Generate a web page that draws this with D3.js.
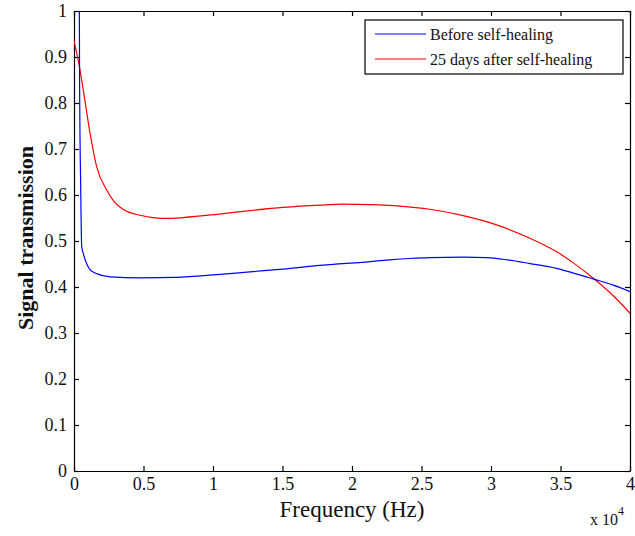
<!DOCTYPE html>
<html>
<head>
<meta charset="utf-8">
<script src="https://cdn.jsdelivr.net/npm/d3@7"></script>
<style>
  html, body { margin: 0; padding: 0; background: #fff; }
  svg { display: block; }
  text { font-family: "Liberation Serif", "Times New Roman", serif; fill: #111; }
</style>
</head>
<body>
<svg id="chart" width="635" height="536"></svg>
<script>
// Frequency sweep (Hz) and signal transmission, before self-healing
const beforeFreq = [380, 400, 480, 554, 669, 1151, 1633, 2590, 4750, 7350, 10290, 12660, 15040, 17700, 19350, 20500, 22700, 24160, 25600, 28000, 29700, 31200, 32800, 34700, 36200, 37400, 38800, 40000];
const beforeVal  = [1.05, 0.86, 0.62, 0.488, 0.473, 0.438, 0.429, 0.422, 0.420, 0.421, 0.427, 0.433, 0.439, 0.447, 0.451, 0.453, 0.459, 0.462, 0.464, 0.465, 0.464, 0.459, 0.451, 0.4405, 0.428, 0.417, 0.404, 0.390];

// 25 days after self-healing
const afterFreq = [0, 432, 669, 1151, 1633, 2352, 2900, 3525, 4750, 5680, 6800, 7840, 10290, 12660, 15040, 17700, 19350, 21290, 23450, 25600, 28000, 30400, 32800, 34700, 35900, 37400, 38800, 40000];
const afterVal  = [0.935, 0.872, 0.828, 0.735, 0.661, 0.611, 0.585, 0.569, 0.556, 0.551, 0.549, 0.551, 0.558, 0.566, 0.573, 0.578, 0.580, 0.579, 0.576, 0.569, 0.555, 0.535, 0.506, 0.477, 0.453, 0.418, 0.381, 0.343];

const xTicks = [0, 5000, 10000, 15000, 20000, 25000, 30000, 35000, 40000];
const xTickLabels = ["0", "0.5", "1", "1.5", "2", "2.5", "3", "3.5", "4"];
const yTicks = [0, 0.1, 0.2, 0.3, 0.4, 0.5, 0.6, 0.7, 0.8, 0.9, 1];
const yTickLabels = ["0", "0.1", "0.2", "0.3", "0.4", "0.5", "0.6", "0.7", "0.8", "0.9", "1"];
const seriesNames = ["Before self-healing", "25 days after self-healing"];
const seriesColors = ["#0000ff", "#ff0000"];

const svg = d3.select("#chart");
const L = 74, R = 630, T = 11, B = 471;

const x = d3.scaleLinear().domain([0, 40000]).range([L, R]);
const y = d3.scaleLinear().domain([0, 1]).range([B, T]);

svg.append("defs").append("clipPath").attr("id", "plotClip")
  .append("rect").attr("x", L).attr("y", T).attr("width", R - L).attr("height", B - T);

const tickLen = 5;

// Bottom axis
const xAxis = svg.append("g").attr("transform", `translate(0,${B})`)
  .call(d3.axisBottom(x).tickValues(xTicks).tickSize(-tickLen).tickSizeOuter(0)
    .tickFormat((d, i) => xTickLabels[i]));
// Top axis (mirror ticks)
const xAxisTop = svg.append("g").attr("transform", `translate(0,${T})`)
  .call(d3.axisTop(x).tickValues(xTicks).tickSize(-tickLen).tickSizeOuter(0).tickFormat(""));
// Left axis
const yAxis = svg.append("g").attr("transform", `translate(${L},0)`)
  .call(d3.axisLeft(y).tickValues(yTicks).tickSize(-tickLen).tickSizeOuter(0)
    .tickFormat((d, i) => yTickLabels[i]));
// Right axis (mirror ticks)
const yAxisRight = svg.append("g").attr("transform", `translate(${R},0)`)
  .call(d3.axisRight(y).tickValues(yTicks).tickSize(-tickLen).tickSizeOuter(0).tickFormat(""));

[xAxis, xAxisTop, yAxis, yAxisRight].forEach(g => {
  g.select(".domain").attr("stroke", "#000").attr("stroke-width", 1.2);
  g.selectAll(".tick line").attr("stroke", "#000").attr("stroke-width", 1.2);
  g.selectAll("text").attr("font-family", "Liberation Serif, serif").attr("font-size", 18).attr("fill", "#111");
});
xAxis.selectAll("text").attr("dy", "1.05em").attr("y", 0);
yAxis.selectAll("text").attr("x", -7);

// Data lines
const line = d3.line().curve(d3.curveMonotoneX).x(d => x(d[0])).y(d => y(d[1]));
const plot = svg.append("g").attr("clip-path", "url(#plotClip)");
plot.append("path")
  .datum(d3.zip(afterFreq, afterVal))
  .attr("d", line).attr("fill", "none").attr("stroke", seriesColors[1]).attr("stroke-width", 1.2);
plot.append("path")
  .datum(d3.zip(beforeFreq, beforeVal))
  .attr("d", line).attr("fill", "none").attr("stroke", seriesColors[0]).attr("stroke-width", 1.2);

// Legend
const lg = svg.append("g");
lg.append("rect").attr("x", 365).attr("y", 20).attr("width", 258).attr("height", 54)
  .attr("fill", "#fff").attr("stroke", "#000").attr("stroke-width", 1.2);
seriesNames.forEach((name, i) => {
  const yy = 34 + i * 25;
  lg.append("line").attr("x1", 375).attr("x2", 426).attr("y1", yy).attr("y2", yy)
    .attr("stroke", seriesColors[i]).attr("stroke-width", 1.2);
  lg.append("text").attr("x", 430).attr("y", yy).attr("dy", "0.35em")
    .attr("font-size", 16).text(name);
});

// Axis titles
svg.append("text").attr("x", 352).attr("y", 517).attr("text-anchor", "middle")
  .attr("font-size", 23).text("Frequency (Hz)");
svg.append("text").attr("transform", "translate(33,238) rotate(-90)")
  .attr("text-anchor", "middle").attr("font-size", 22).attr("font-weight", "bold")
  .text("Signal transmission");

// Exponent marker for frequency axis
const ex = svg.append("text").attr("x", 590).attr("y", 525).attr("font-size", 16);
ex.append("tspan").text("x 10");
ex.append("tspan").attr("dy", -10).attr("font-size", 12).text("4");
</script>
</body>
</html>
